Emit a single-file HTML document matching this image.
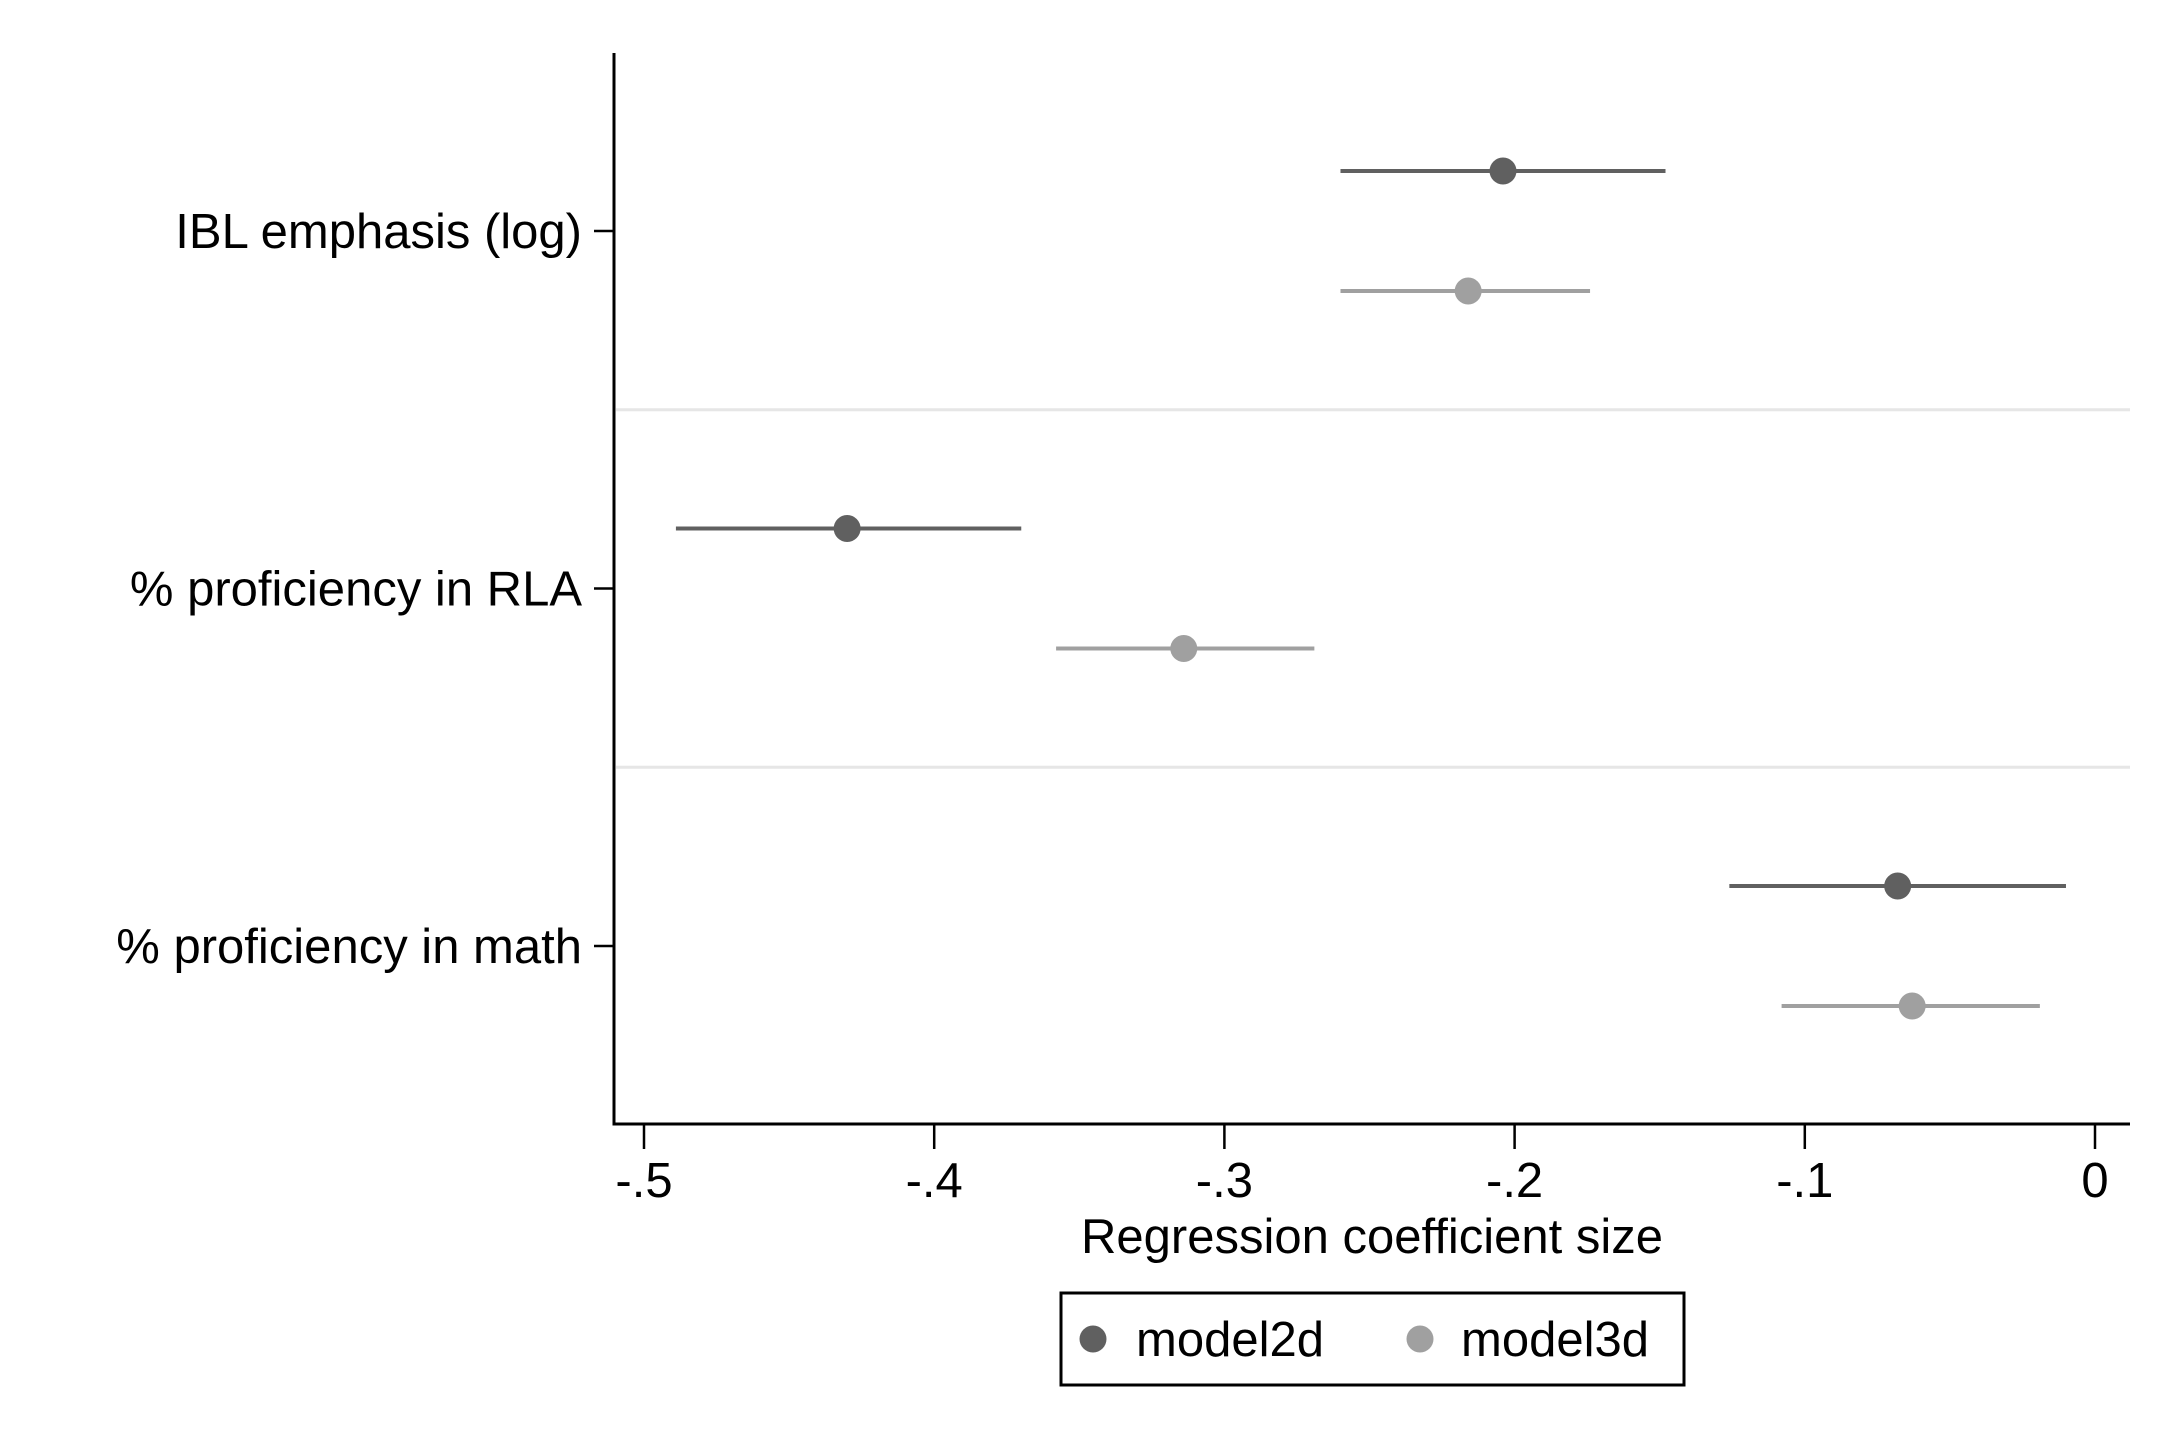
<!DOCTYPE html>
<html><head><meta charset="utf-8"><style>html,body{margin:0;padding:0;background:#fff}svg{display:block}</style></head>
<body>
<svg id="chart" width="2160" height="1440" viewBox="0 0 2160 1440" xmlns="http://www.w3.org/2000/svg" font-family="Liberation Sans, Arial, sans-serif"></svg>
<script>
const categories = ["IBL emphasis (log)", "% proficiency in RLA", "% proficiency in math"];
const seriesNames = ["model2d", "model3d"];
const model2dPoint = [-0.204, -0.430, -0.068];
const model2dLow = [-0.260, -0.489, -0.126];
const model2dHigh = [-0.148, -0.370, -0.010];
const model3dPoint = [-0.216, -0.314, -0.063];
const model3dLow = [-0.260, -0.358, -0.108];
const model3dHigh = [-0.174, -0.269, -0.019];
const xTicks = [-0.5, -0.4, -0.3, -0.2, -0.1, 0];
const xTickLabels = ["-.5", "-.4", "-.3", "-.2", "-.1", "0"];

const NS = "http://www.w3.org/2000/svg";
const svg = document.getElementById("chart");
const L = 614, R = 2130, T = 53, B = 1124;
const xScale = v => 2095 + (v - 0) * 2902;
const catY = i => 231 + i * 357.5;
const colors = ["#606060", "#a0a0a0"];
function mk(tag, a) { const e = document.createElementNS(NS, tag); for (const k in a) e.setAttribute(k, a[k]); svg.appendChild(e); return e; }

// separators
for (let i = 0; i < categories.length - 1; i++) {
  const y = (catY(i) + catY(i + 1)) / 2;
  const s = mk("line", {x1: L + 2, x2: R, y1: y, y2: y, stroke: "#e6e6e6", "stroke-width": 3});
  
  
}
// axes
const ya = mk("line", {x1: L, x2: L, y1: T, y2: B + 1.5, stroke: "#000", "stroke-width": 3});


const xa = mk("line", {x1: L - 1.5, x2: R, y1: B, y2: B, stroke: "#000", "stroke-width": 3});



categories.forEach((c, i) => {
  const y = catY(i);
  const t = mk("line", {x1: L - 20, x2: L, y1: y, y2: y, stroke: "#000", "stroke-width": 2.5});
  
  
  const tx = mk("text", {x: L - 32, y: y + 17, "text-anchor": "end", "font-size": 49, fill: "#000"});
  tx.textContent = c;
  
  
});
xTicks.forEach((v, i) => {
  const x = xScale(v);
  const t = mk("line", {x1: x, x2: x, y1: B, y2: B + 25, stroke: "#000", "stroke-width": 2.5});
  
  
  const tx = mk("text", {x: x, y: 1197, "text-anchor": "middle", "font-size": 49, fill: "#000"});
  tx.textContent = xTickLabels[i];
  
  
});
const xt = mk("text", {x: 1372, y: 1253, "text-anchor": "middle", "font-size": 49, fill: "#000"});
xt.textContent = "Regression coefficient size";



const series = [[model2dPoint, model2dLow, model2dHigh], [model3dPoint, model3dLow, model3dHigh]];
series.forEach((s, si) => {
  categories.forEach((c, i) => {
    const y = catY(i) + (si === 0 ? -60 : 60);
    const ln = mk("line", {x1: xScale(s[1][i]), x2: xScale(s[2][i]), y1: y, y2: y, stroke: colors[si], "stroke-width": 4});
    
    
    const p = mk("circle", {cx: xScale(s[0][i]), cy: y, r: 13.5, fill: colors[si]});
    
    
  });
});

// legend
const lb = mk("rect", {x: 1061, y: 1293, width: 623, height: 92, fill: "#fff", stroke: "#000", "stroke-width": 3});


const lx = [1093, 1420], tx0 = [1136, 1461];
seriesNames.forEach((n, i) => {
  const c = mk("circle", {cx: lx[i], cy: 1339, r: 13.5, fill: colors[i]});
  
  
  const t = mk("text", {x: tx0[i], y: 1356, "font-size": 49, fill: "#000"});
  t.textContent = n;
  
  
});
</script>
</body></html>
